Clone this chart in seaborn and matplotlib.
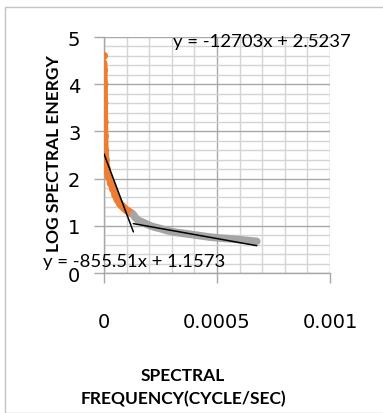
import numpy as np
import pandas as pd
import seaborn as sns
import matplotlib
matplotlib.use("Agg")
import matplotlib.pyplot as plt
from matplotlib.ticker import MultipleLocator, FixedLocator
from matplotlib.patches import Rectangle

# ---- data ----
orange_x = [0.0, 0.0, 0.000002, 0.000002, 0.000003, 0.000004, 0.000005, 0.000008,
            0.000013, 0.00002, 0.00003, 0.00004, 0.00005, 0.00006, 0.00007,
            0.00008, 0.00009, 0.0001, 0.00011, 0.00012]
orange_y = [4.6, 4.3, 4.0, 3.6, 3.2, 2.9, 2.6, 2.4, 2.2, 2.05, 1.9, 1.78, 1.65,
            1.55, 1.47, 1.42, 1.37, 1.33, 1.3, 1.27]

gray_x = [0.000130, 0.000137, 0.000150, 0.000174, 0.000200, 0.000217, 0.000250,
          0.000277, 0.000320, 0.000366, 0.000425, 0.000470, 0.000513, 0.000571,
          0.000620, 0.000676]
gray_y = [1.24, 1.18, 1.12, 1.07, 1.01, 0.98, 0.94, 0.90, 0.86, 0.83, 0.79,
          0.76, 0.74, 0.72, 0.695, 0.67]

trend_slopes = [-12703, -855.51]
trend_intercepts = [2.5237, 1.1573]
trend_x_ranges = [[0.0, 0.00013], [0.00013, 0.000676]]
trend_labels = ["y = -12703x + 2.5237", "y = -855.51x + 1.1573"]

x_ticks = [0, 0.0005, 0.001]
x_tick_labels = ["0", "0.0005", "0.001"]
y_ticks = [0, 1, 2, 3, 4, 5]
y_tick_labels = ["0", "1", "2", "3", "4", "5"]

x_title = "SPECTRAL\nFREQUENCY(CYCLE/SEC)"
y_title = "LOG SPECTRAL ENERGY"

# ---- figure ----
sns.set_theme(style="white")
plt.rcParams['font.family'] = ['DejaVu Sans']

W, H = 383, 414
fig = plt.figure(figsize=(W / 100, H / 100), dpi=100)
fig.patch.set_facecolor("white")

# outer chart frame
fig.patches.append(Rectangle((5 / W, 0), 1.2, 1 - 8 / H, transform=fig.transFigure,
                             fill=False, edgecolor="#c4c4c4", lw=1.0))

ax = fig.add_axes([104 / W, 1 - 274 / H, 226 / W, 236 / H])
ax.set_facecolor("white")

df_o = pd.DataFrame({"x": orange_x, "y": orange_y})
df_g = pd.DataFrame({"x": gray_x, "y": gray_y})

sns.lineplot(data=df_o, x="x", y="y", sort=False, color="#ED7D31", lw=5,
             ax=ax, solid_capstyle="round", zorder=3)
sns.scatterplot(data=df_o, x="x", y="y", color="#ED7D31", s=34, edgecolor="none",
                ax=ax, zorder=3)
sns.lineplot(data=df_g, x="x", y="y", sort=False, color="#A5A5A5", lw=5.5,
             ax=ax, solid_capstyle="round", zorder=3)

for m, b, (x0, x1) in zip(trend_slopes, trend_intercepts, trend_x_ranges):
    xs = np.array([x0, x1])
    ax.plot(xs, m * xs + b, color="black", lw=1.1, zorder=4)

ax.set_xlim(0, 0.001)
ax.set_ylim(0, 5)
ax.xaxis.set_major_locator(FixedLocator(x_ticks))
ax.yaxis.set_major_locator(FixedLocator(y_ticks))
ax.set_xticklabels(x_tick_labels)
ax.set_yticklabels(y_tick_labels)
ax.xaxis.set_minor_locator(MultipleLocator(0.0001))
ax.yaxis.set_minor_locator(MultipleLocator(0.2))

ax.set_axisbelow(True)
ax.grid(True, which="minor", color="#d4d4d4", lw=1.0, zorder=0)
ax.grid(True, which="major", color="#a8a8a8", lw=1.0, zorder=0)

for s in ["top", "right"]:
    ax.spines[s].set_visible(False)
for s in ["left", "bottom"]:
    ax.spines[s].set_color("#a8a8a8")
    ax.spines[s].set_linewidth(1.0)

ax.tick_params(which="major", axis="both", direction="out", length=7, width=1,
               color="#a8a8a8", labelcolor="black", labelsize=14)
ax.tick_params(which="major", axis="y", pad=10, left=True)
ax.tick_params(which="major", axis="x", pad=21, bottom=True)
ax.tick_params(which="minor", length=0)

ax.set_xlabel(x_title, fontfamily="Lato", fontweight="bold", fontsize=12.5,
              linespacing=1.55, color="black")
ax.xaxis.set_label_coords((183 - 104) / 226, (274 - 368) / 236)
ax.set_ylabel(y_title, fontfamily="Lato", fontweight="bold", fontsize=12.5,
              color="black")
ax.yaxis.set_label_coords((62 - 104) / 226, (274 - 154) / 236)

ax.text(0.000305, 4.81, trend_labels[0], fontfamily="Lato", fontsize=13.3,
        ha="left", va="baseline", color="black", zorder=5)
ax.text(-0.00027, 0.15, trend_labels[1], fontfamily="Lato", fontsize=13.3,
        ha="left", va="baseline", color="black", clip_on=False, zorder=5)

fig.savefig("out.png", dpi=100)
